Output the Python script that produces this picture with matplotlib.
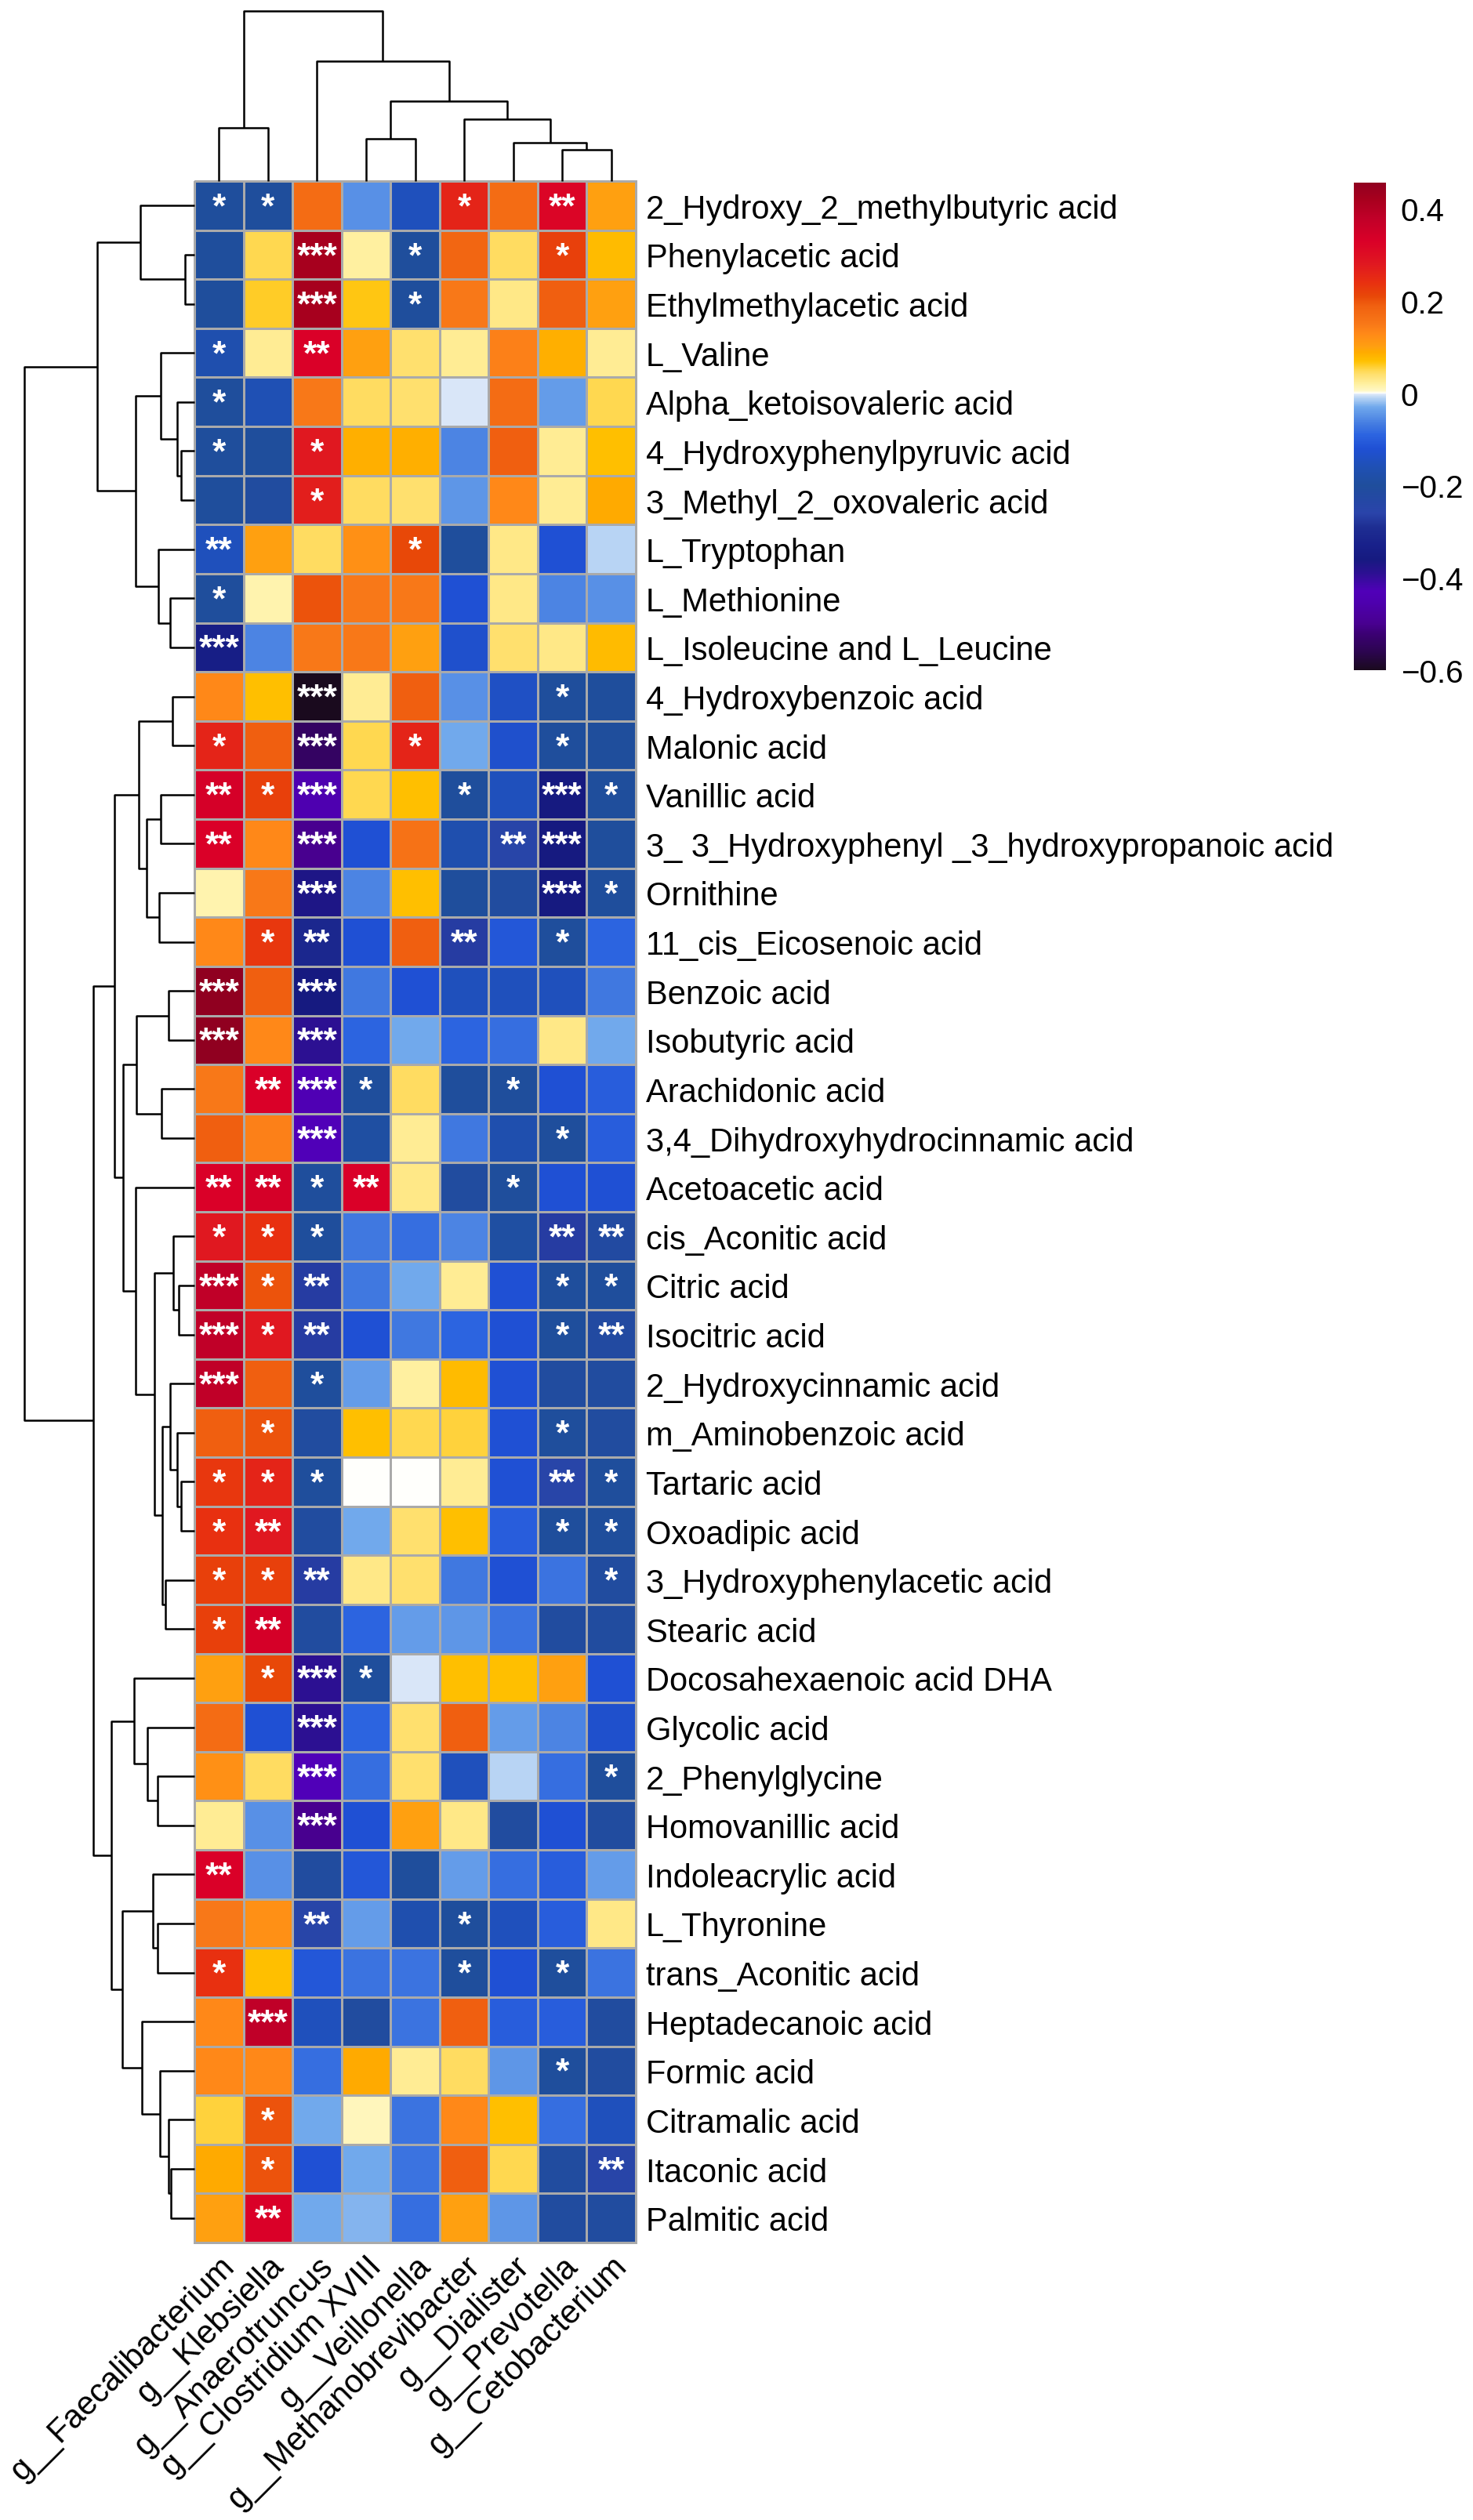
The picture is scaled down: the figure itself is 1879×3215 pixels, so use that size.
import matplotlib
matplotlib.use("Agg")
import matplotlib.pyplot as plt
import numpy as np
from matplotlib.colors import LinearSegmentedColormap, Normalize
from matplotlib.cm import ScalarMappable

plt.rcParams["font.family"] = ["Liberation Sans", "DejaVu Sans"]

W, H = 1879, 3216

genera = ["g__Faecalibacterium", "g__Klebsiella", "g__Anaerotruncus",
          "g__Clostridium XVIII", "g__Veillonella", "g__Methanobrevibacter",
          "g__Dialister", "g__Prevotella", "g__Cetobacterium"]

metabolites = [
    "2_Hydroxy_2_methylbutyric acid", "Phenylacetic acid", "Ethylmethylacetic acid",
    "L_Valine", "Alpha_ketoisovaleric acid", "4_Hydroxyphenylpyruvic acid",
    "3_Methyl_2_oxovaleric acid", "L_Tryptophan", "L_Methionine",
    "L_Isoleucine and L_Leucine", "4_Hydroxybenzoic acid", "Malonic acid",
    "Vanillic acid", "3_ 3_Hydroxyphenyl _3_hydroxypropanoic acid", "Ornithine",
    "11_cis_Eicosenoic acid", "Benzoic acid", "Isobutyric acid", "Arachidonic acid",
    "3,4_Dihydroxyhydrocinnamic acid", "Acetoacetic acid", "cis_Aconitic acid",
    "Citric acid", "Isocitric acid", "2_Hydroxycinnamic acid", "m_Aminobenzoic acid",
    "Tartaric acid", "Oxoadipic acid", "3_Hydroxyphenylacetic acid", "Stearic acid",
    "Docosahexaenoic acid DHA", "Glycolic acid", "2_Phenylglycine",
    "Homovanillic acid", "Indoleacrylic acid", "L_Thyronine", "trans_Aconitic acid",
    "Heptadecanoic acid", "Formic acid", "Citramalic acid", "Itaconic acid",
    "Palmitic acid"]

# correlation coefficients, rows = metabolites, cols = genera
corr = [
    [-0.20, -0.20, 0.17, -0.05, -0.15, 0.26, 0.17, 0.32, 0.10],
    [-0.20, 0.05, 0.42, 0.02, -0.20, 0.18, 0.045, 0.22, 0.075],
    [-0.20, 0.06, 0.42, 0.065, -0.20, 0.15, 0.03, 0.19, 0.10],
    [-0.17, 0.025, 0.33, 0.10, 0.04, 0.025, 0.14, 0.085, 0.025],
    [-0.20, -0.16, 0.15, 0.045, 0.04, -0.003, 0.17, -0.04, 0.05],
    [-0.20, -0.20, 0.28, 0.085, 0.085, -0.06, 0.19, 0.025, 0.07],
    [-0.20, -0.21, 0.27, 0.045, 0.04, -0.045, 0.13, 0.025, 0.09],
    [-0.15, 0.10, 0.045, 0.12, 0.21, -0.20, 0.03, -0.12, -0.01],
    [-0.20, 0.015, 0.20, 0.15, 0.15, -0.12, 0.03, -0.06, -0.05],
    [-0.34, -0.06, 0.15, 0.15, 0.10, -0.13, 0.04, 0.03, 0.075],
    [0.13, 0.07, -0.60, 0.025, 0.19, -0.05, -0.14, -0.20, -0.20],
    [0.26, 0.19, -0.54, 0.05, 0.26, -0.03, -0.13, -0.20, -0.20],
    [0.34, 0.22, -0.45, 0.05, 0.07, -0.20, -0.15, -0.36, -0.20],
    [0.33, 0.13, -0.50, -0.12, 0.16, -0.17, -0.25, -0.36, -0.20],
    [0.015, 0.15, -0.37, -0.06, 0.07, -0.20, -0.21, -0.36, -0.20],
    [0.13, 0.23, -0.31, -0.12, 0.19, -0.27, -0.11, -0.20, -0.09],
    [0.46, 0.19, -0.36, -0.07, -0.12, -0.15, -0.15, -0.15, -0.07],
    [0.46, 0.13, -0.39, -0.09, -0.03, -0.09, -0.08, 0.03, -0.03],
    [0.15, 0.33, -0.44, -0.20, 0.045, -0.20, -0.20, -0.12, -0.10],
    [0.19, 0.14, -0.43, -0.19, 0.025, -0.07, -0.17, -0.20, -0.10],
    [0.33, 0.34, -0.20, 0.33, 0.03, -0.21, -0.20, -0.12, -0.12],
    [0.28, 0.24, -0.20, -0.07, -0.08, -0.06, -0.19, -0.27, -0.22],
    [0.38, 0.20, -0.27, -0.07, -0.03, 0.025, -0.12, -0.20, -0.20],
    [0.38, 0.28, -0.27, -0.12, -0.07, -0.09, -0.12, -0.20, -0.22],
    [0.38, 0.19, -0.20, -0.04, 0.02, 0.075, -0.12, -0.21, -0.21],
    [0.19, 0.20, -0.21, 0.07, 0.05, 0.055, -0.12, -0.20, -0.21],
    [0.23, 0.26, -0.20, 0.0, 0.0, 0.025, -0.12, -0.25, -0.20],
    [0.24, 0.28, -0.21, -0.03, 0.04, 0.07, -0.10, -0.20, -0.20],
    [0.22, 0.22, -0.27, 0.03, 0.04, -0.07, -0.12, -0.075, -0.21],
    [0.22, 0.34, -0.21, -0.09, -0.04, -0.045, -0.075, -0.21, -0.21],
    [0.10, 0.21, -0.39, -0.20, -0.003, 0.07, 0.07, 0.10, -0.12],
    [0.17, -0.12, -0.39, -0.09, 0.04, 0.19, -0.04, -0.06, -0.13],
    [0.12, 0.045, -0.43, -0.08, 0.04, -0.15, -0.01, -0.08, -0.20],
    [0.025, -0.05, -0.50, -0.12, 0.10, 0.03, -0.21, -0.12, -0.21],
    [0.33, -0.05, -0.21, -0.11, -0.20, -0.04, -0.08, -0.10, -0.04],
    [0.15, 0.12, -0.25, -0.04, -0.17, -0.20, -0.15, -0.10, 0.03],
    [0.24, 0.07, -0.11, -0.075, -0.075, -0.20, -0.12, -0.20, -0.075],
    [0.13, 0.38, -0.15, -0.21, -0.075, 0.19, -0.10, -0.10, -0.21],
    [0.13, 0.13, -0.08, 0.09, 0.025, 0.045, -0.045, -0.20, -0.21],
    [0.055, 0.20, -0.03, 0.01, -0.075, 0.13, 0.07, -0.08, -0.15],
    [0.09, 0.20, -0.12, -0.03, -0.075, 0.19, 0.05, -0.21, -0.25],
    [0.10, 0.33, -0.03, -0.025, -0.08, 0.10, -0.045, -0.21, -0.21],
]

# significance marks
stars = [
    ["*", "*", "", "", "", "*", "", "**", ""],
    ["", "", "***", "", "*", "", "", "*", ""],
    ["", "", "***", "", "*", "", "", "", ""],
    ["*", "", "**", "", "", "", "", "", ""],
    ["*", "", "", "", "", "", "", "", ""],
    ["*", "", "*", "", "", "", "", "", ""],
    ["", "", "*", "", "", "", "", "", ""],
    ["**", "", "", "", "*", "", "", "", ""],
    ["*", "", "", "", "", "", "", "", ""],
    ["***", "", "", "", "", "", "", "", ""],
    ["", "", "***", "", "", "", "", "*", ""],
    ["*", "", "***", "", "*", "", "", "*", ""],
    ["**", "*", "***", "", "", "*", "", "***", "*"],
    ["**", "", "***", "", "", "", "**", "***", ""],
    ["", "", "***", "", "", "", "", "***", "*"],
    ["", "*", "**", "", "", "**", "", "*", ""],
    ["***", "", "***", "", "", "", "", "", ""],
    ["***", "", "***", "", "", "", "", "", ""],
    ["", "**", "***", "*", "", "", "*", "", ""],
    ["", "", "***", "", "", "", "", "*", ""],
    ["**", "**", "*", "**", "", "", "*", "", ""],
    ["*", "*", "*", "", "", "", "", "**", "**"],
    ["***", "*", "**", "", "", "", "", "*", "*"],
    ["***", "*", "**", "", "", "", "", "*", "**"],
    ["***", "", "*", "", "", "", "", "", ""],
    ["", "*", "", "", "", "", "", "*", ""],
    ["*", "*", "*", "", "", "", "", "**", "*"],
    ["*", "**", "", "", "", "", "", "*", "*"],
    ["*", "*", "**", "", "", "", "", "", "*"],
    ["*", "**", "", "", "", "", "", "", ""],
    ["", "*", "***", "*", "", "", "", "", ""],
    ["", "", "***", "", "", "", "", "", ""],
    ["", "", "***", "", "", "", "", "", "*"],
    ["", "", "***", "", "", "", "", "", ""],
    ["**", "", "", "", "", "", "", "", ""],
    ["", "", "**", "", "", "*", "", "", ""],
    ["*", "", "", "", "", "*", "", "*", ""],
    ["", "***", "", "", "", "", "", "", ""],
    ["", "", "", "", "", "", "", "*", ""],
    ["", "*", "", "", "", "", "", "", ""],
    ["", "*", "", "", "", "", "", "", "**"],
    ["", "**", "", "", "", "", "", "", ""],
]

# merges (child a, child b, height); new node ids continue after the leaves
row_linkage = [
    (1, 2, 37), (0, 42, 208), (5, 6, 52), (4, 44, 67), (3, 45, 128),
    (8, 9, 93), (7, 47, 138), (46, 48, 227), (43, 49, 372),
    (10, 11, 85), (12, 13, 130), (14, 15, 135), (52, 53, 185), (51, 54, 215),
    (16, 17, 100), (18, 19, 125), (56, 57, 223),
    (22, 23, 59), (21, 59, 82), (26, 27, 50), (25, 61, 65), (24, 62, 93),
    (28, 29, 110), (63, 64, 123), (60, 65, 153), (20, 66, 225),
    (58, 67, 273), (55, 68, 308),
    (32, 33, 142), (31, 70, 182), (30, 71, 232),
    (35, 36, 142), (34, 73, 160), (40, 41, 90), (39, 75, 100), (38, 76, 132),
    (37, 77, 203), (74, 78, 277), (72, 79, 318), (69, 80, 387), (50, 81, 653),
]
col_linkage = [
    (0, 1, 202), (3, 4, 162), (7, 8, 119), (6, 11, 147), (5, 12, 237),
    (10, 13, 305), (2, 14, 457), (9, 15, 647),
]

cmap_stops = [
    (-0.600, "#1a0a1e"), (-0.560, "#2c0550"), (-0.520, "#3c0075"),
    (-0.500, "#480090"), (-0.450, "#4e00b0"), (-0.430, "#5000b8"),
    (-0.390, "#2c1092"), (-0.360, "#161a80"), (-0.330, "#18208a"),
    (-0.290, "#1e2e92"), (-0.260, "#2a44aa"), (-0.230, "#2448a4"),
    (-0.200, "#1f4e9c"), (-0.160, "#1f50b4"), (-0.120, "#1f50d4"),
    (-0.090, "#2c64e0"), (-0.070, "#4078e0"), (-0.050, "#5890e6"),
    (-0.030, "#70a8ec"), (-0.010, "#b8d4f4"), (-0.002, "#dde8f8"),
    (0.000, "#ffffff"), (0.005, "#fff8c8"), (0.020, "#fff0a0"),
    (0.040, "#ffe070"), (0.050, "#ffd850"), (0.070, "#ffc000"),
    (0.090, "#ffaa00"), (0.100, "#ffa010"), (0.130, "#ff8818"),
    (0.150, "#f87818"), (0.190, "#f06010"), (0.210, "#e84808"),
    (0.240, "#e83010"), (0.280, "#e01820"), (0.330, "#da0028"),
    (0.380, "#c00028"), (0.420, "#a8001e"), (0.457, "#900020"),
]
vmin, vmax = cmap_stops[0][0], cmap_stops[-1][0]
cmap = LinearSegmentedColormap.from_list(
    "corr", [((v - vmin) / (vmax - vmin), c) for v, c in cmap_stops], N=1024)
norm = Normalize(vmin=vmin, vmax=vmax)

data = np.array(corr)
nr, nc = data.shape


def dendro_segments(linkage, n):
    pos = {i: i + 0.5 for i in range(n)}
    hgt = {i: 0.0 for i in range(n)}
    segs = []
    for k, (a, b, h) in enumerate(linkage):
        segs.append(([pos[a], pos[a], pos[b], pos[b]], [hgt[a], h, h, hgt[b]]))
        pos[n + k] = (pos[a] + pos[b]) / 2
        hgt[n + k] = h
    return segs, max(h for _, _, h in linkage)


fig = plt.figure(figsize=(W / 100, H / 100), dpi=100)

hm_l, hm_r, hm_t, hm_b = 248, 811, 232, 2862
ax = fig.add_axes([hm_l / W, 1 - hm_b / H, (hm_r - hm_l) / W, (hm_b - hm_t) / H])
mesh = ax.pcolormesh(data, cmap=cmap, norm=norm, edgecolors="#aaaaaa", linewidth=2.0)
mesh.set_clip_on(False)
ax.set_xlim(0, nc)
ax.set_ylim(nr, 0)
for s in ax.spines.values():
    s.set_visible(False)

for i in range(nr):
    for j in range(nc):
        if stars[i][j]:
            ax.text(j + 0.5, i + 0.54, stars[i][j], color="white", fontsize=32,
                    fontweight="bold", ha="center", va="center")

ax.yaxis.tick_right()
ax.set_yticks(np.arange(nr) + 0.5)
ax.set_yticklabels(metabolites, fontsize=30)
ax.tick_params(axis="y", length=0, pad=9)
ax.set_xticks(np.arange(nc) + 0.5)
ax.set_xticklabels(genera, fontsize=30, rotation=45, ha="right", va="top",
                   rotation_mode="anchor")
ax.tick_params(axis="x", length=0, pad=7)

# column dendrogram
axt = fig.add_axes([hm_l / W, 1 - hm_t / H, (hm_r - hm_l) / W, (hm_t - 15) / H])
segs, top = dendro_segments(col_linkage, nc)
for xs, ys in segs:
    axt.plot(xs, ys, color="black", lw=1.8, clip_on=False, solid_capstyle="butt")
axt.set_xlim(0, nc)
axt.set_ylim(0, top)
axt.axis("off")

# row dendrogram
axl = fig.add_axes([31 / W, 1 - hm_b / H, (hm_l - 31) / W, (hm_b - hm_t) / H])
segs, top = dendro_segments(row_linkage, nr)
for xs, ys in segs:
    axl.plot(ys, xs, color="black", lw=1.8, clip_on=False, solid_capstyle="butt")
axl.set_ylim(nr, 0)
axl.set_xlim(top, 0)
axl.axis("off")

# colour key
axc = fig.add_axes([1727 / W, 1 - 856 / H, 41 / W, 622.5 / H])
cb = fig.colorbar(ScalarMappable(norm=norm, cmap=cmap), cax=axc)
cb.outline.set_visible(False)
cb.set_ticks([-0.6, -0.4, -0.2, 0, 0.2, 0.4])
cb.set_ticklabels(["\u22120.6", "\u22120.4", "\u22120.2", "0", "0.2", "0.4"])
axc.tick_params(length=0, pad=13.5, labelsize=29)

fig.savefig("out.png", dpi=100)
